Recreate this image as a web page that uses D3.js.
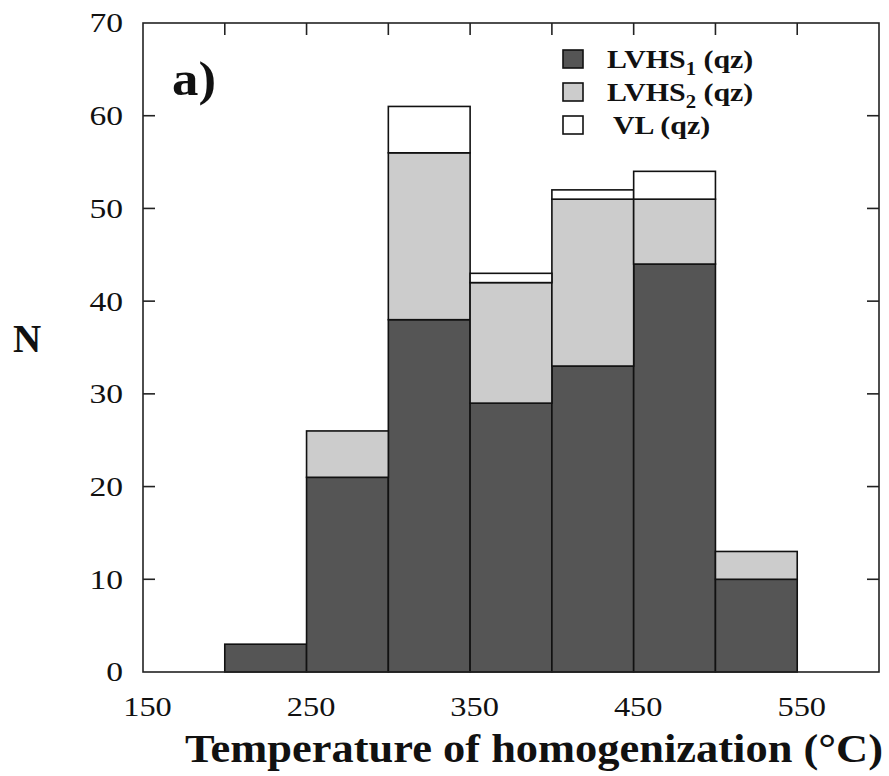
<!DOCTYPE html>
<html>
<head>
<meta charset="utf-8">
<script src="https://cdn.jsdelivr.net/npm/d3@7"></script>
<style>
  body { margin: 0; background: #fff; }
  text { font-family: "Liberation Serif", "Times New Roman", serif; fill: #111; }
</style>
</head>
<body>
<div id="chart"></div>
<script>
// bin edges (°C) and counts for each inclusion type
var binStarts = [200, 250, 300, 350, 400, 450, 500];
var binWidth = 50;
var lvhs1 = [3, 21, 38, 29, 33, 44, 10];
var lvhs2 = [0, 5, 18, 13, 18, 7, 3];
var vl    = [0, 0, 5, 1, 1, 3, 0];
var xTicks = [150, 250, 350, 450, 550];
var yTicks = [0, 10, 20, 30, 40, 50, 60, 70];

var seriesNames = ["LVHS1", "LVHS2", "VL"];
var seriesColors = ["#555555", "#cccccc", "#ffffff"];

var margin = {top: 23, left: 143};
var width = 879 - margin.left,
    height = 672 - margin.top;
var stretch = 1.2; // reference text is horizontally stretched

var svg = d3.select("#chart").append("svg")
    .attr("width", 889)
    .attr("height", 776);

var g = svg.append("g")
    .attr("transform", "translate(" + margin.left + "," + margin.top + ")");

var x = d3.scaleLinear().domain([150, 600]).range([0, width]);
var y = d3.scaleLinear().domain([0, 70]).range([height, 0]);

var table = binStarts.map(function (b, i) {
    return {start: b, LVHS1: lvhs1[i], LVHS2: lvhs2[i], VL: vl[i]};
});
var stacked = d3.stack().keys(seriesNames)(table);

// inward ticks all around
var tickLen = 12;
var frameTicks = d3.range(200, 600, 50);
var sideTicks = yTicks.slice(1, -1);
function tick(sel) {
    sel.attr("stroke", "#222").attr("stroke-width", 1.6);
}
g.selectAll(".ttick").data(frameTicks).enter().append("line")
    .attr("x1", function (d) { return x(d); }).attr("x2", function (d) { return x(d); })
    .attr("y1", 0).attr("y2", tickLen).call(tick);
g.selectAll(".btick").data(frameTicks).enter().append("line")
    .attr("x1", function (d) { return x(d); }).attr("x2", function (d) { return x(d); })
    .attr("y1", height).attr("y2", height - tickLen).call(tick);
g.selectAll(".ltick").data(sideTicks).enter().append("line")
    .attr("x1", 0).attr("x2", tickLen)
    .attr("y1", function (d) { return y(d); }).attr("y2", function (d) { return y(d); }).call(tick);
g.selectAll(".rtick").data(sideTicks).enter().append("line")
    .attr("x1", width).attr("x2", width - tickLen)
    .attr("y1", function (d) { return y(d); }).attr("y2", function (d) { return y(d); }).call(tick);

// bars
stacked.forEach(function (layer, k) {
    g.selectAll(".bar" + k)
        .data(layer.filter(function (d) { return d[1] > d[0]; }))
        .enter()
        .append("rect")
        .attr("x", function (d) { return x(d.data.start); })
        .attr("width", function (d) { return x(d.data.start + binWidth) - x(d.data.start); })
        .attr("y", function (d) { return y(d[1]); })
        .attr("height", function (d) { return y(d[0]) - y(d[1]); })
        .attr("fill", seriesColors[k])
        .attr("stroke", "#111")
        .attr("stroke-width", 1.6);
});

// frame
g.append("rect")
    .attr("width", width).attr("height", height)
    .attr("fill", "none").attr("stroke", "#222").attr("stroke-width", 1.6);

// axis labels via d3 axes, no tick lines
var xAxis = d3.axisBottom(x).tickValues(xTicks).tickSize(0).tickPadding(25);
var gx = g.append("g").attr("transform", "translate(0," + height + ")").call(xAxis);
gx.select(".domain").remove();
gx.selectAll("text").attr("font-size", "27px")
    .attr("x", 4 / stretch)
    .attr("transform", "scale(" + stretch + ",1)");

var yAxis = d3.axisLeft(y).tickValues(yTicks).tickSize(0).tickPadding(20);
var gy = g.append("g").call(yAxis);
gy.select(".domain").remove();
gy.selectAll("text").attr("font-size", "28px")
    .attr("x", -20 / stretch)
    .attr("transform", "scale(" + stretch + ",1)");

// titles
svg.append("text")
    .attr("x", 185).attr("y", 762)
    .attr("font-size", "41px").attr("font-weight", "bold")
    .attr("textLength", 698).attr("lengthAdjust", "spacingAndGlyphs")
    .text("Temperature of homogenization (°C)");

svg.append("text")
    .attr("x", 13).attr("y", 352)
    .attr("font-size", "39px").attr("font-weight", "bold")
    .text("N");

svg.append("text")
    .attr("transform", "translate(172,95) scale(1.1,1)")
    .attr("font-size", "48px").attr("font-weight", "bold")
    .text("a)");

// legend
var legendRows = [
    {main: "LVHS", sub: "1", rest: " (qz)", color: seriesColors[0], dx: 0},
    {main: "LVHS", sub: "2", rest: " (qz)", color: seriesColors[1], dx: 0},
    {main: "VL (qz)", sub: "", rest: "", color: seriesColors[2], dx: 6}
];
var leg = svg.append("g");
legendRows.forEach(function (r, i) {
    var base = 68 + i * 33;
    leg.append("rect")
        .attr("x", 563).attr("y", base - 18)
        .attr("width", 20).attr("height", 18)
        .attr("fill", r.color).attr("stroke", "#111").attr("stroke-width", 1.6);
    var t = leg.append("text")
        .attr("transform", "translate(" + (607 + r.dx) + "," + base + ") scale(1.15,1)")
        .attr("font-size", "26px").attr("font-weight", "bold");
    t.append("tspan").text(r.main);
    if (r.sub) {
        t.append("tspan").attr("font-size", "18px").attr("dy", "7").text(r.sub);
        t.append("tspan").attr("dy", "-7").text(r.rest);
    }
});
</script>
</body>
</html>
